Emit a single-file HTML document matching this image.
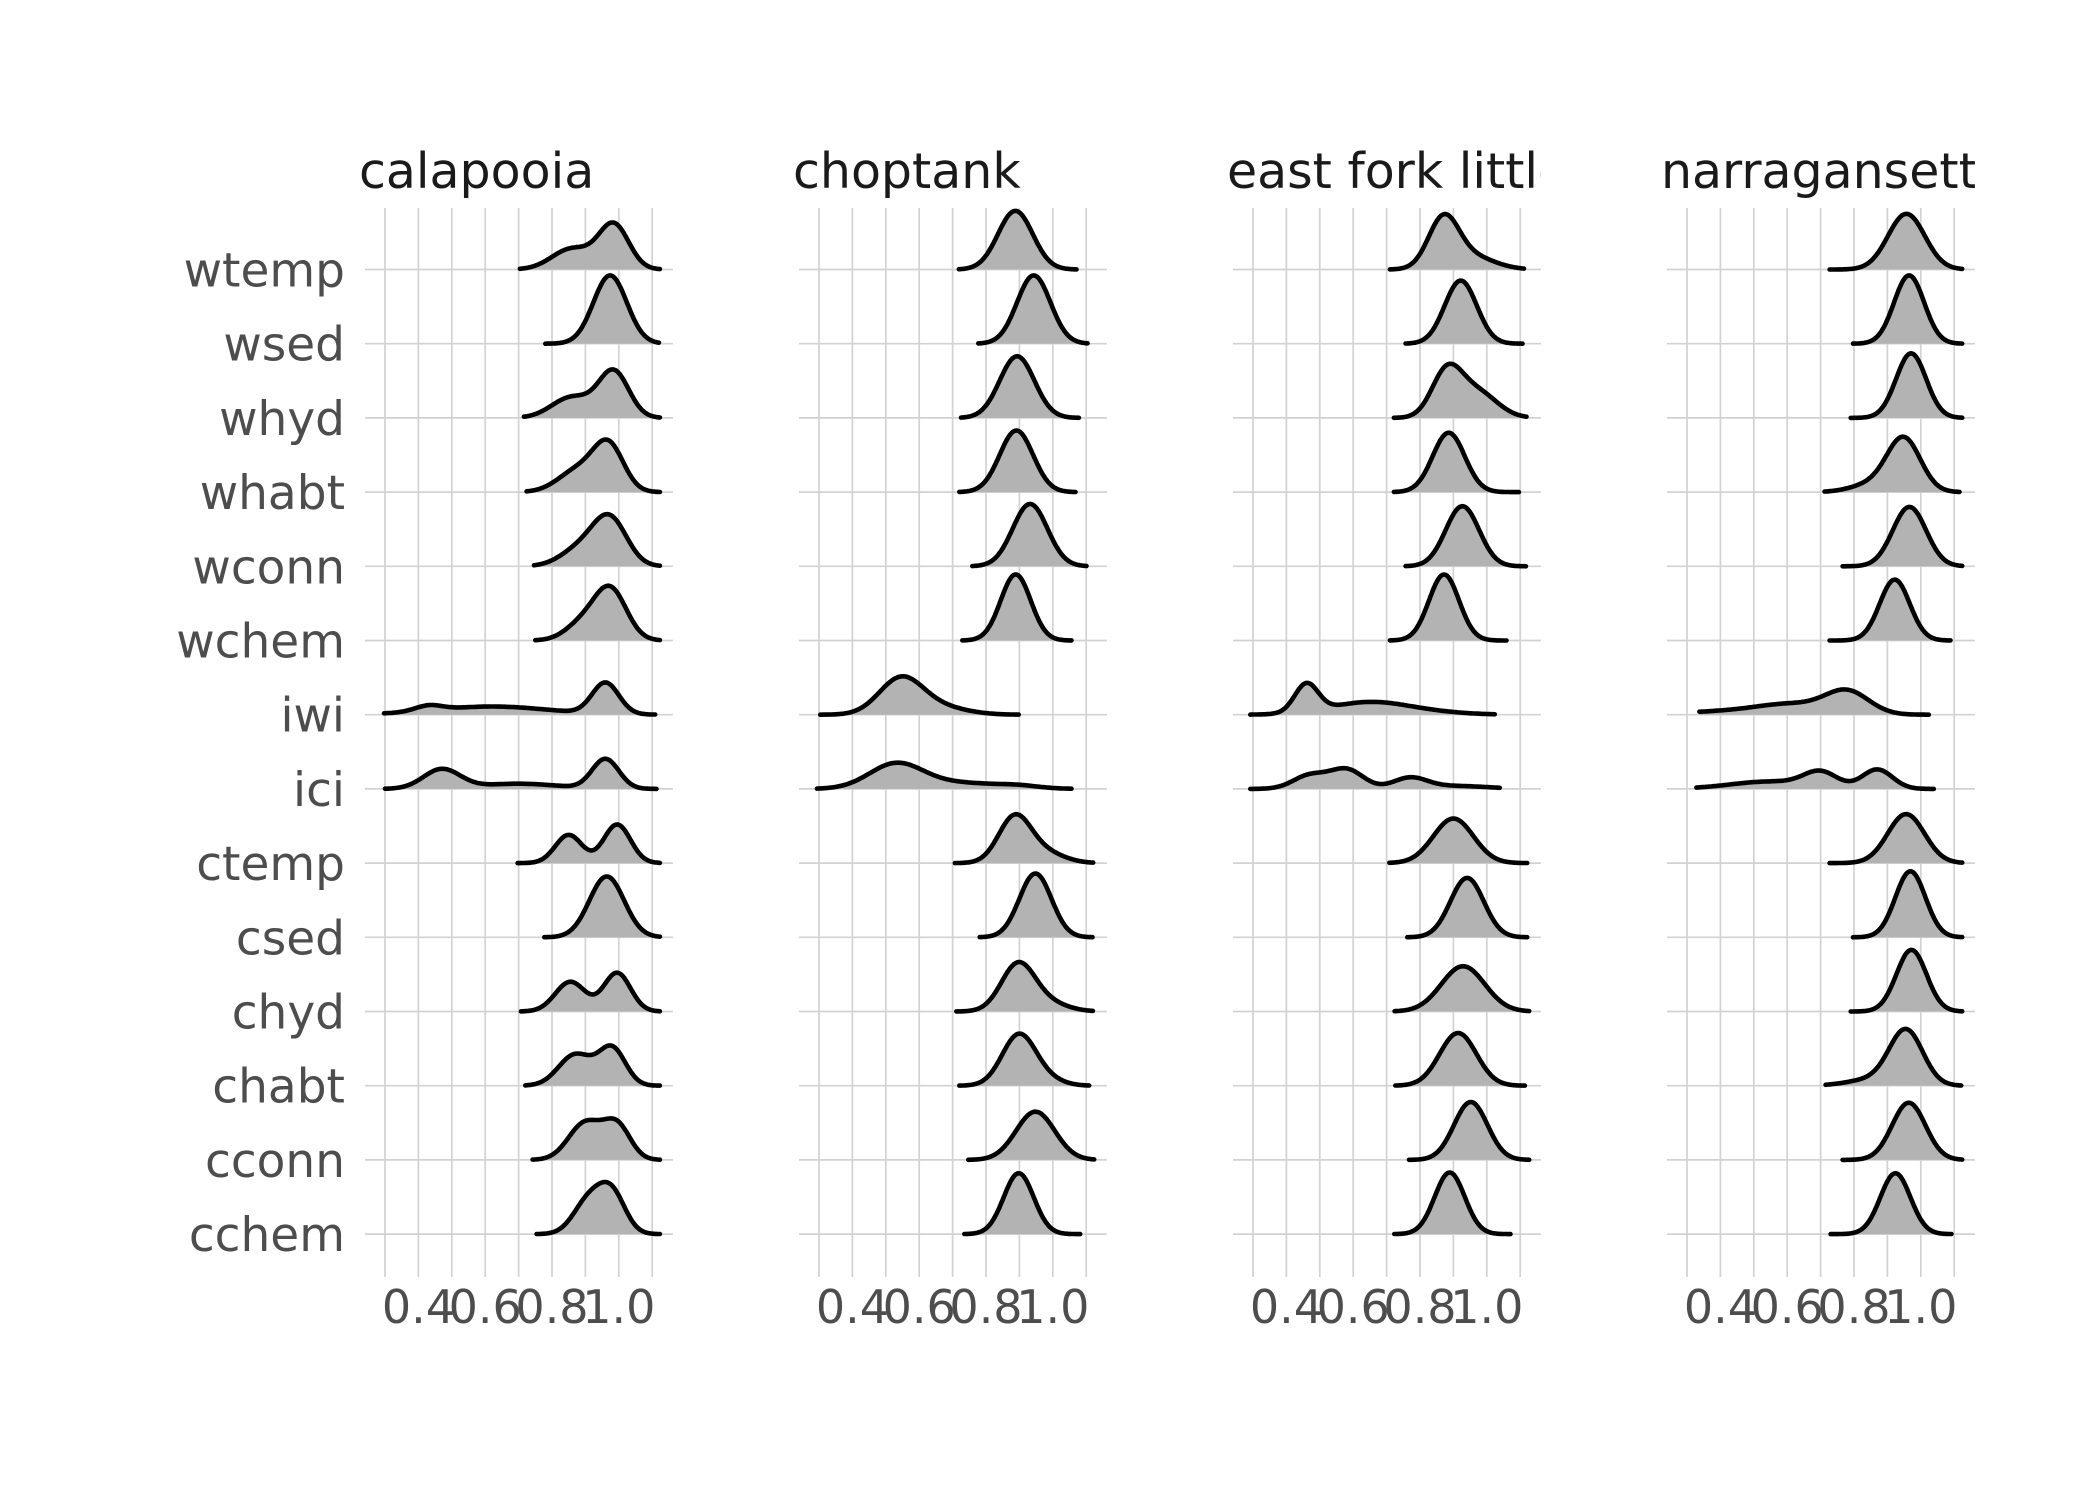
<!DOCTYPE html>
<html><head><meta charset="utf-8"><style>
html,body{margin:0;padding:0;background:#fff;}
svg{display:block;font-family:"DejaVu Sans","Liberation Sans",sans-serif;}
</style></head><body>
<svg id="chart" width="2100" height="1500" viewBox="0 0 2100 1500" xmlns="http://www.w3.org/2000/svg">
<rect x="0" y="0" width="2100" height="1500" fill="#ffffff"/>
</svg>
<script>
const panelNames = ["calapooia", "choptank", "east fork little miami", "narragansett"];
const rowNames = ["wtemp","wsed","whyd","whabt","wconn","wchem","iwi","ici","ctemp","csed","chyd","chabt","cconn","cchem"];
const tickValues = [0.4, 0.6, 0.8, 1.0];
const tickLabels = ["0.4", "0.6", "0.8", "1.0"];
const gridValues = [0.3,0.4,0.5,0.6,0.7,0.8,0.9,1.0,1.1];
// each ridge: [lo, hi, [[mean, sd, height], ...]]
const calapooiaRidges = [
 [0.704,1.123,[[0.985,0.045,0.6],[0.86,0.06,0.28]]],
 [0.78,1.12,[[0.974,0.05,0.92]]],
 [0.716,1.123,[[0.985,0.045,0.62],[0.86,0.06,0.28]]],
 [0.724,1.123,[[0.97,0.045,0.6],[0.88,0.06,0.3]]],
 [0.746,1.123,[[0.975,0.05,0.6],[0.89,0.06,0.25]]],
 [0.75,1.123,[[0.975,0.048,0.68],[0.89,0.05,0.22]]],
 [0.297,1.109,[[0.96,0.04,0.42],[0.43,0.04,0.07],[0.62,0.17,0.11]]],
 [0.3,1.113,[[0.96,0.04,0.4],[0.47,0.055,0.26],[0.7,0.12,0.07]]],
 [0.697,1.123,[[0.85,0.04,0.38],[0.995,0.04,0.52]]],
 [0.777,1.123,[[0.964,0.052,0.82]]],
 [0.707,1.123,[[0.855,0.045,0.4],[0.995,0.04,0.52]]],
 [0.72,1.123,[[0.87,0.05,0.42],[0.98,0.04,0.5]]],
 [0.742,1.123,[[0.9,0.05,0.5],[0.995,0.04,0.45]]],
 [0.754,1.123,[[0.91,0.045,0.45],[0.98,0.04,0.52]]]
];
const choptankRidges = [
 [0.719,1.071,[[0.888,0.052,0.79]]],
 [0.777,1.104,[[0.943,0.05,0.92]]],
 [0.725,1.078,[[0.893,0.052,0.83]]],
 [0.72,1.068,[[0.891,0.05,0.83]]],
 [0.759,1.101,[[0.932,0.052,0.84]]],
 [0.729,1.056,[[0.889,0.045,0.89]]],
 [0.304,0.898,[[0.545,0.065,0.48],[0.66,0.08,0.1]]],
 [0.294,1.056,[[0.53,0.08,0.33],[0.72,0.12,0.08],[0.9,0.06,0.03]]],
 [0.707,1.121,[[0.885,0.048,0.6],[0.97,0.06,0.15]]],
 [0.781,1.119,[[0.948,0.048,0.86]]],
 [0.711,1.12,[[0.895,0.05,0.62],[0.98,0.06,0.12]]],
 [0.72,1.109,[[0.898,0.05,0.68],[0.98,0.05,0.08]]],
 [0.747,1.124,[[0.948,0.058,0.65]]],
 [0.735,1.082,[[0.898,0.045,0.82]]]
];
const eastForkRidges = [
 [0.71,1.111,[[0.87,0.045,0.65],[0.95,0.07,0.18]]],
 [0.757,1.107,[[0.922,0.048,0.85]]],
 [0.722,1.119,[[0.88,0.045,0.6],[0.97,0.06,0.35]]],
 [0.722,1.096,[[0.886,0.048,0.8]]],
 [0.757,1.117,[[0.927,0.05,0.81]]],
 [0.71,1.059,[[0.872,0.045,0.89]]],
 [0.292,1.024,[[0.46,0.035,0.38],[0.65,0.12,0.17],[0.85,0.1,0.02]]],
 [0.292,1.039,[[0.47,0.05,0.18],[0.58,0.05,0.26],[0.77,0.05,0.14],[0.9,0.1,0.04]]],
 [0.708,1.121,[[0.9,0.06,0.6]]],
 [0.762,1.121,[[0.941,0.05,0.8]]],
 [0.724,1.127,[[0.929,0.065,0.61]]],
 [0.726,1.114,[[0.914,0.055,0.71]]],
 [0.767,1.127,[[0.952,0.05,0.78]]],
 [0.723,1.071,[[0.889,0.045,0.83]]]
];
const narragansettRidges = [
 [0.727,1.124,[[0.957,0.055,0.75]]],
 [0.797,1.124,[[0.965,0.045,0.92]]],
 [0.79,1.124,[[0.971,0.045,0.87]]],
 [0.712,1.116,[[0.949,0.05,0.72],[0.85,0.06,0.1]]],
 [0.766,1.124,[[0.966,0.05,0.8]]],
 [0.727,1.089,[[0.922,0.045,0.82]]],
 [0.337,1.024,[[0.78,0.065,0.3],[0.62,0.1,0.12],[0.45,0.15,0.05]]],
 [0.328,1.039,[[0.7,0.05,0.2],[0.87,0.045,0.26],[0.55,0.12,0.1]]],
 [0.727,1.124,[[0.956,0.055,0.66]]],
 [0.797,1.124,[[0.969,0.045,0.89]]],
 [0.79,1.124,[[0.972,0.045,0.83]]],
 [0.715,1.121,[[0.956,0.05,0.74],[0.85,0.07,0.08]]],
 [0.766,1.124,[[0.964,0.05,0.77]]],
 [0.73,1.092,[[0.924,0.045,0.82]]]
];
const allRidges = [calapooiaRidges, choptankRidges, eastForkRidges, narragansettRidges];

const NS = "http://www.w3.org/2000/svg";
const svg = document.getElementById("chart");
const PANEL_OFF = 434, X0 = 385, PX = 334;
const ROW0 = 269.5, ROWH = 74.2;
const XMIN = 0.24, XMAX = 1.162;
function xScale(p, v){ return X0 + p*PANEL_OFF + (v-0.3)*PX; }
function yRow(i){ return ROW0 + i*ROWH; }
function mk(tag, attrs){ const e=document.createElementNS(NS,tag); for(const k in attrs) e.setAttribute(k, attrs[k]); return e; }
function dens(comps, x){ let s=0; for(const c of comps){ const z=(x-c[0])/c[1]; s+=c[2]*Math.exp(-0.5*z*z);} return s; }

const defs = mk("defs",{});
svg.appendChild(defs);

panelNames.forEach((name,p)=>{
  const g = mk("g",{});
  
  
  svg.appendChild(g);
  const clip = mk("clipPath",{id:"clip"+p});
  clip.appendChild(mk("rect",{x:xScale(p,XMIN)-10,y:100,width:(XMAX-XMIN)*PX+10,height:120}));
  defs.appendChild(clip);
  const t = mk("text",{x:xScale(p,XMIN)-6,y:188,"font-size":49,fill:"#1a1a1a","clip-path":"url(#clip"+p+")"});
  
  
  t.textContent = name;
  g.appendChild(t);
  gridValues.forEach(v=>{
    const l = mk("line",{x1:xScale(p,v),x2:xScale(p,v),y1:208,y2:1277,stroke:"#d2d2d2","stroke-width":1.7});
    
    
    g.appendChild(l);
  });
  rowNames.forEach((r,i)=>{
    const l = mk("line",{x1:xScale(p,XMIN),x2:xScale(p,XMAX),y1:yRow(i),y2:yRow(i),stroke:"#d2d2d2","stroke-width":1.7});
    
    
    g.appendChild(l);
  });
  tickValues.forEach((v,k)=>{
    const t2 = mk("text",{x:xScale(p,v),y:1323,"font-size":46,fill:"#4d4d4d","text-anchor":"middle"});
    
    
    t2.textContent = tickLabels[k];
    g.appendChild(t2);
  });
  const ridges = allRidges[p];
  ridges.forEach((rd,i)=>{
    const lo=rd[0], hi=rd[1], comps=rd[2], base=yRow(i);
    const pts=[]; const N=140;
    for(let k=0;k<=N;k++){ const x=lo+(hi-lo)*k/N; pts.push([xScale(p,x), base - dens(comps,x)*ROWH]); }
    let line = "M"+pts.map(q=>q[0].toFixed(1)+","+q[1].toFixed(1)).join(" L");
    const area = line + " L"+pts[N][0].toFixed(1)+","+base+" L"+pts[0][0].toFixed(1)+","+base+" Z";
    const a = mk("path",{d:area,fill:"#b3b3b3",stroke:"none"});
    
    
    g.appendChild(a);
    const s = mk("path",{d:line,fill:"none",stroke:"#000","stroke-width":4.6,"stroke-linejoin":"round","stroke-linecap":"round"});
    
    
    g.appendChild(s);
  });
});
rowNames.forEach((r,i)=>{
  const t = mk("text",{x:345,y:yRow(i)+17,"font-size":47,fill:"#4d4d4d","text-anchor":"end"});
  
  
  t.textContent = r;
  svg.appendChild(t);
});
</script>
</body></html>
